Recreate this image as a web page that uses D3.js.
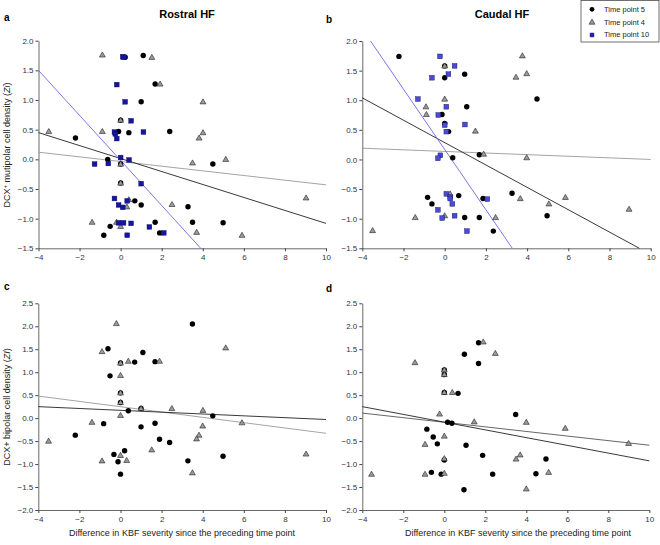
<!DOCTYPE html>
<html>
<head>
<meta charset="utf-8">
<script src="https://cdn.jsdelivr.net/npm/d3@7"></script>
<style>
  body { margin: 0; background: #fff; }
  svg { font-family: "Liberation Sans", Arial, sans-serif; }
  .axis path, .axis line { stroke: #444; }
  .axis text { fill: #333; font-size: 8px; }
</style>
</head>
<body>
<svg id="chart" width="660" height="545"></svg>
<script>
// x ticks and y ticks
var xTicks = [-4, -2, 0, 2, 4, 6, 8, 10];
var yTicksTop = [-1.5, -1.0, -0.5, 0.0, 0.5, 1.0, 1.5, 2.0];
var yTicksBottom = [-2.0, -1.5, -1.0, -0.5, 0.0, 0.5, 1.0, 1.5, 2.0, 2.5];

// panel a: Rostral HF, multipolar
var aTp5 = [[1.1,1.75],[0.22,1.72],[1.68,1.27],[1.0,0.97],[0,0.66],[-0.1,0.47],[0.4,0.45],[2.39,0.47],
  [-2.2,0.36],[-0.63,0.0],[4.49,-0.08],[0,-0.08],[0,-0.4],[0.69,-0.7],[1.0,-0.77],[3.28,-0.8],
  [1.68,-1.06],[3.5,-1.06],[4.99,-1.07],[-0.51,-1.13],[-0.82,-1.28],[1.9,-1.24]];
var aTp4 = [[-0.89,1.76],[1.52,1.72],[1.92,1.27],[4.01,0.97],[-3.5,0.47],[-0.89,0.47],[4.01,0.45],
  [3.82,0.36],[3.5,-0.06],[5.12,0.0],[0,-0.08],[0,0.66],[0,-0.4],[9.03,-0.65],[2.5,-0.76],
  [0.3,-0.8],[0.4,-0.68],[-1.39,-1.06],[-0.2,-1.06],[0,-1.13],[3.7,-1.23],[5.91,-1.28]];
var aTp10 = [[0.1,1.73],[0.16,1.72],[-0.19,1.26],[0.22,0.97],[0.51,0.65],[-0.3,0.46],[-0.26,0.43],
  [1.11,0.46],[-0.19,0.35],[0,0.03],[0.41,-0.01],[-1.27,-0.08],[-0.6,-0.07],[1.0,-0.41],
  [-0.3,-0.66],[0.32,-0.7],[-0.1,-0.77],[0.1,-0.81],[-0.1,-1.07],[0.14,-1.07],[0.51,-1.08],
  [1.4,-1.14],[2.1,-1.24],[0.32,-1.28]];
var aFit5 = [[-4,0.45],[10,-1.08]];
var aFit4 = [[-4,0.12],[10,-0.43]];
var aFit10 = [[-4,1.5],[3.9,-1.5]];

// panel b: Caudal HF, multipolar
var bTp5 = [[-2.22,1.74],[0,1.58],[0,1.38],[0.97,1.44],[4.48,1.02],[1.07,0.89],[-0.13,0.76],
  [0,0.61],[0.19,0.47],[0.39,0.03],[1.68,0.08],[-0.83,-0.64],[-0.62,-0.75],[0.68,-0.61],
  [1.86,-0.66],[3.27,-0.57],[0.97,-0.98],[1.68,-0.98],[4.97,-0.95],[2.36,-1.21]];
var bTp4 = [[3.77,1.75],[3.46,1.39],[3.98,1.45],[0,1.02],[-0.91,0.89],[-0.89,0.76],[1.49,0.48],
  [1.89,0.09],[3.98,0.03],[3.67,-0.66],[5.06,-0.75],[5.86,-0.64],[8.95,-0.84],[-1.43,-0.98],
  [0,-0.95],[2.47,-0.98],[-3.5,-1.2],[0.26,-0.58],[0,1.58]];
var bTp10 = [[-0.23,1.74],[0.48,1.58],[0.18,1.44],[-0.62,1.38],[-1.3,1.02],[0.08,0.89],[-0.31,0.75],
  [0,0.58],[0.08,0.47],[0.98,0.59],[-0.21,0.07],[-0.33,0.02],[0.08,-0.58],[0.27,-0.63],
  [0.27,-0.66],[0.37,-0.75],[2.07,-0.67],[-0.33,-0.85],[-0.12,-0.99],[0.48,-0.95],[1.08,-1.21]];
var bFit5 = [[-4,1.04],[9.45,-1.5]];
var bFit4 = [[-4,0.19],[10,0.0]];
var bFit10 = [[-3.6,2.0],[3.28,-1.5]];

// panel c: Rostral HF, bipolar
var cTp5 = [[3.5,2.05],[-0.61,1.51],[1.09,1.43],[0,1.2],[0.69,1.22],[1.68,1.23],[-0.51,0.92],
  [0,0.55],[0,0.34],[0.38,0.16],[1.0,0.21],[4.49,0.05],[-0.82,-0.12],[1.0,-0.19],[1.68,-0.11],
  [-2.2,-0.37],[1.9,-0.46],[2.39,-0.53],[-0.32,-0.79],[0.2,-0.71],[-0.12,-0.95],[3.28,-0.93],
  [4.99,-0.83],[0,-1.22]];
var cTp4 = [[-0.2,2.06],[-0.9,1.45],[0.38,1.24],[1.9,1.24],[5.12,1.53],[0,0.93],[0,0.06],
  [1.0,0.21],[2.5,0.21],[4.01,0.17],[-1.39,-0.09],[-3.5,-0.5],[-0.9,-0.93],[0,-0.81],[0.3,-0.92],
  [1.52,-0.69],[4.0,-0.17],[3.82,-0.37],[3.7,-0.45],[3.5,-1.19],[5.91,-0.1],[9.03,-0.78],
  [0,1.2],[0,0.55],[0,0.34]];
var cFit5 = [[-4,0.25],[10,-0.03]];
var cFit4 = [[-4,0.48],[10,-0.33]];

// panel d: Caudal HF, bipolar
var dTp5 = [[1.67,1.64],[0.98,1.39],[1.67,1.19],[0,1.05],[0,0.95],[0,0.56],[0.67,0.54],[3.48,0.08],
  [0.16,-0.09],[0.37,-0.11],[-0.85,-0.24],[-0.54,-0.41],[-0.34,-0.56],[1.06,-0.59],[1.87,-0.81],
  [0,-0.91],[4.96,-0.89],[-0.63,-1.18],[-0.15,-1.22],[2.36,-1.22],[4.47,-1.21],[0.96,-1.56]];
var dTp4 = [[1.9,1.66],[2.49,1.41],[-1.43,1.21],[0.39,0.56],[-0.23,0.09],[1.46,-0.08],[4.0,-0.09],
  [5.9,-0.22],[8.99,-0.55],[0,-0.39],[-0.94,-0.57],[0,-0.88],[-3.55,-1.22],[-0.94,-1.22],
  [0,-1.2],[3.7,-0.8],[3.5,-0.89],[5.09,-1.18],[4.0,-1.54],[0,1.05],[0,0.95],[0,0.56]];
var dFit5 = [[-4,0.25],[10,-0.93]];
var dFit4 = [[-4,0.11],[10,-0.59]];

var svg = d3.select("#chart");

var panels = [
  { letter: "a", lx: 4, ly: 21, xr: [38.5, 326], yr: [248.3, 40.7], yd: [-1.5, 2], yt: yTicksTop,
    tp5: aTp5, tp4: aTp4, tp10: aTp10, sqColor: "#1515a0",
    fits: [[aFit4, "#9a9a9a"], [aFit5, "#222"], [aFit10, "#6a6ae0"]] },
  { letter: "b", lx: 326, ly: 23, xr: [362.3, 650.7], yr: [248.3, 41], yd: [-1.5, 2], yt: yTicksTop,
    tp5: bTp5, tp4: bTp4, tp10: bTp10, sqColor: "#4a4ad2",
    fits: [[bFit4, "#9a9a9a"], [bFit5, "#222"], [bFit10, "#6a6ae0"]] },
  { letter: "c", lx: 4, ly: 290, xr: [38.3, 326], yr: [510, 303.3], yd: [-2, 2.5], yt: yTicksBottom,
    tp5: cTp5, tp4: cTp4, tp10: [], sqColor: "#1515a0",
    fits: [[cFit4, "#9a9a9a"], [cFit5, "#222"]] },
  { letter: "d", lx: 326, ly: 292, xr: [362.3, 649.3], yr: [510, 303.3], yd: [-2, 2.5], yt: yTicksBottom,
    tp5: dTp5, tp4: dTp4, tp10: [], sqColor: "#1515a0",
    fits: [[dFit4, "#555"], [dFit5, "#222"]] }
];

var tri = d3.symbol().type(d3.symbolTriangle).size(15);

panels.forEach(function(p) {
  var x = d3.scaleLinear().domain([-4, 10]).range(p.xr);
  var y = d3.scaleLinear().domain(p.yd).range(p.yr);
  var g = svg.append("g");

  g.append("g")
    .attr("class", "axis")
    .attr("transform", "translate(0," + p.yr[0] + ")")
    .call(d3.axisBottom(x).tickValues(xTicks).tickSize(3).tickSizeOuter(0).tickPadding(3));

  g.append("g")
    .attr("class", "axis")
    .attr("transform", "translate(" + p.xr[0] + ",0)")
    .call(d3.axisLeft(y).tickValues(p.yt).tickFormat(d3.format(".1f")).tickSize(3).tickSizeOuter(0).tickPadding(2));

  g.selectAll(".axis path").attr("stroke-width", 0.8);

  // regression lines
  var line = d3.line().x(function(d) { return x(d[0]); }).y(function(d) { return y(d[1]); });
  p.fits.forEach(function(f) {
    g.append("path")
      .attr("d", line(f[0]))
      .attr("fill", "none")
      .attr("stroke", f[1])
      .attr("stroke-width", 0.9);
  });

  g.selectAll(".c5").data(p.tp5).enter().append("circle")
    .attr("cx", function(d) { return x(d[0]); })
    .attr("cy", function(d) { return y(d[1]); })
    .attr("r", 2.7)
    .attr("fill", "#000");

  g.selectAll(".t4").data(p.tp4).enter().append("path")
    .attr("d", tri)
    .attr("transform", function(d) { return "translate(" + x(d[0]) + "," + (y(d[1]) + 0.4) + ")"; })
    .attr("fill", "#9a9a9a")
    .attr("stroke", "#222")
    .attr("stroke-width", 0.6);

  g.selectAll(".s10").data(p.tp10).enter().append("rect")
    .attr("x", function(d) { return x(d[0]) - 2.4; })
    .attr("y", function(d) { return y(d[1]) - 2.4; })
    .attr("width", 4.8)
    .attr("height", 4.8)
    .attr("fill", p.sqColor)
    .attr("stroke", "#101060")
    .attr("stroke-width", 0.4);

  svg.append("text")
    .attr("x", p.lx).attr("y", p.ly)
    .attr("font-size", 10).attr("font-weight", "bold")
    .text(p.letter);
});

// column titles
svg.append("text").attr("x", 187).attr("y", 18).attr("text-anchor", "middle")
  .attr("font-size", 11).attr("font-weight", "bold").text("Rostral HF");
svg.append("text").attr("x", 502).attr("y", 18).attr("text-anchor", "middle")
  .attr("font-size", 11).attr("font-weight", "bold").text("Caudal HF");

// y axis labels
var yl1 = svg.append("text")
  .attr("transform", "translate(10,145) rotate(-90)")
  .attr("text-anchor", "middle").attr("font-size", 9).attr("fill", "#222");
yl1.append("tspan").text("DCX");
yl1.append("tspan").attr("font-size", 6).attr("dy", -3).text("+");
yl1.append("tspan").attr("dy", 3).text(" mutipolar cell density (");
yl1.append("tspan").attr("font-style", "italic").text("Zi");
yl1.append("tspan").text(")");

var yl2 = svg.append("text")
  .attr("transform", "translate(10,407) rotate(-90)")
  .attr("text-anchor", "middle").attr("font-size", 9).attr("fill", "#222");
yl2.append("tspan").text("DCX+ bipolar cell density (");
yl2.append("tspan").attr("font-style", "italic").text("ZI");
yl2.append("tspan").text(")");

// x axis labels
svg.append("text").attr("x", 182).attr("y", 536).attr("text-anchor", "middle")
  .attr("font-size", 9).attr("fill", "#222")
  .text("Difference in KBF severity since the preceding time point");
svg.append("text").attr("x", 518).attr("y", 536).attr("text-anchor", "middle")
  .attr("font-size", 9).attr("fill", "#222")
  .text("Difference in KBF severity since the preceding time point");

// legend
var legendLabels = ["Time point 5", "Time point 4", "Time point 10"];
var lg = svg.append("g");
lg.append("rect").attr("x", 581).attr("y", 0.5).attr("width", 78).attr("height", 41.5)
  .attr("fill", "#fff").attr("stroke", "#333").attr("stroke-width", 0.7);
lg.selectAll(".lt").data(legendLabels).enter().append("text")
  .attr("x", 604).attr("y", function(d, i) { return 12 + i * 12.7; })
  .attr("font-size", 7.5).attr("fill", "#222")
  .text(function(d) { return d; });
lg.append("circle").attr("cx", 592).attr("cy", 9.3).attr("r", 2.4).attr("fill", "#000");
lg.append("path").attr("d", tri).attr("transform", "translate(592,22.5)")
  .attr("fill", "#9a9a9a").attr("stroke", "#222").attr("stroke-width", 0.6);
lg.append("rect").attr("x", 589.8).attr("y", 32.8).attr("width", 4.4).attr("height", 4.4)
  .attr("fill", "#2020b0");
</script>
</body>
</html>
